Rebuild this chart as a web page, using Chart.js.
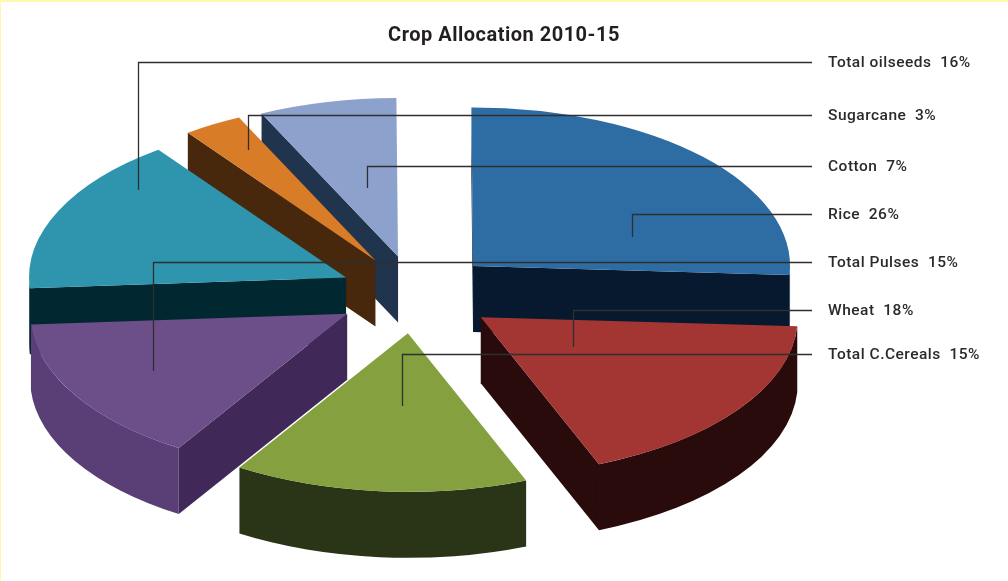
<!DOCTYPE html>
<html>
<head>
<meta charset="utf-8">
<title>Crop Allocation 2010-15</title>
<script src="https://cdn.jsdelivr.net/npm/chart.js@4"></script>
<style>
  html, body { margin: 0; padding: 0; background: #fff; }
  canvas { display: block; }
</style>
</head>
<body>
<canvas id="cropChart" width="1008" height="581"></canvas>
<script>
const categories = ['Rice', 'Wheat', 'Total C.Cereals', 'Total Pulses', 'Total oilseeds', 'Sugarcane', 'Cotton'];
const shares = [26, 18, 15, 15, 16, 3, 7];

const topColors = ['#2e6ca4', '#a33633', '#84a03f', '#6c4e88', '#2f95ae', '#d97c28', '#8ca2cc'];
const rimColors = ['#07192e', '#2a0b0b', '#2a3416', '#593f76', '#012731', '#47280c', '#21344d'];
const cutColors = ['#07192e', '#2a0b0b', '#2a3416', '#402959', '#012731', '#47280c', '#21344d'];

// pie geometry on the page: squashed ellipse, each slice pulled out of the centre
const pie = { cx: 415, cy: 293.5, rx: 317, tilt: 0.5, depth: 66, rotation: -0.3 };
const explode = [80, 81, 80, 79, 76, 77, 76];
const paintOrder = [6, 5, 4, 0, 3, 1, 2];

// leader line for each category: start on the slice, elbow height, label height
const leaders = [
  { x: 632, from: 237, y: 214.5 },
  { x: 573, from: 347, y: 310.5 },
  { x: 402, from: 406, y: 354.5 },
  { x: 153, from: 371, y: 262.5 },
  { x: 138, from: 190, y: 62.5 },
  { x: 248, from: 150, y: 115.5 },
  { x: 367, from: 188, y: 166.5 },
];
const leaderEnd = 812;
const labelX = 828;

function drawSlice(ctx, arc, index, scaleX, scaleY) {
  const { x, y, startAngle, endAngle, outerRadius: r } = arc.getProps(['x', 'y', 'startAngle', 'endAngle', 'outerRadius'], true);
  const drop = pie.depth / scaleY;
  const mid = (startAngle + endAngle) / 2;
  const pull = explode[index] / scaleX;

  ctx.save();
  ctx.translate(Math.cos(mid) * pull, Math.sin(mid) * pull);

  const cutFace = (angle) => {
    const ex = x + Math.cos(angle) * r;
    const ey = y + Math.sin(angle) * r;
    ctx.fillStyle = cutColors[index];
    ctx.beginPath();
    ctx.moveTo(x, y);
    ctx.lineTo(ex, ey);
    ctx.lineTo(ex, ey + drop);
    ctx.lineTo(x, y + drop);
    ctx.closePath();
    ctx.fill();
  };
  if (Math.sin(startAngle - Math.PI / 2) > 0) cutFace(startAngle);
  if (Math.sin(endAngle + Math.PI / 2) > 0) cutFace(endAngle);

  const from = Math.max(startAngle, 0);
  const to = Math.min(endAngle, Math.PI);
  if (to > from) {
    ctx.fillStyle = rimColors[index];
    ctx.beginPath();
    ctx.arc(x, y, r, from, to);
    ctx.arc(x, y + drop, r, to, from, true);
    ctx.closePath();
    ctx.fill();
  }

  arc.draw(ctx);
  ctx.restore();
}

const tiltedPie = {
  id: 'tiltedPie',
  beforeDraw(chart) {
    const { ctx, width, height } = chart;
    ctx.letterSpacing = '0.5px';
    ctx.save();
    ctx.fillStyle = '#fff6b4';
    ctx.fillRect(0, 0, width, 2);
    ctx.fillRect(0, 0, 1, height);
    ctx.restore();
  },
  beforeDatasetsDraw(chart) {
    const { ctx } = chart;
    const arcs = chart.getDatasetMeta(0).data;
    const first = arcs[0];
    const scaleX = pie.rx / first.outerRadius;
    const scaleY = scaleX * pie.tilt;

    ctx.save();
    ctx.translate(pie.cx, pie.cy);
    ctx.scale(scaleX, scaleY);
    ctx.translate(-first.x, -first.y);
    paintOrder.forEach((index) => drawSlice(ctx, arcs[index], index, scaleX, scaleY));
    ctx.restore();

    ctx.save();
    ctx.strokeStyle = '#2f2f2f';
    ctx.lineWidth = 1.3;
    ctx.fillStyle = '#2a2a2a';
    ctx.font = '500 15.5px Roboto';
    ctx.textBaseline = 'middle';
    leaders.forEach((line, index) => {
      ctx.beginPath();
      ctx.moveTo(line.x + 0.5, line.from);
      ctx.lineTo(line.x + 0.5, line.y);
      ctx.lineTo(leaderEnd, line.y);
      ctx.stroke();
      ctx.fillText(`${categories[index]}  ${shares[index]}%`, labelX, line.y + 1);
    });
    ctx.restore();
    return false;
  },
};

new Chart(document.getElementById('cropChart'), {
  type: 'pie',
  data: {
    labels: categories,
    datasets: [{
      data: shares,
      backgroundColor: topColors,
      borderWidth: 0,
    }],
  },
  options: {
    responsive: false,
    animation: false,
    events: [],
    rotation: pie.rotation,
    layout: { padding: 0 },
    plugins: {
      legend: { display: false },
      tooltip: { enabled: false },
      title: {
        display: true,
        text: 'Crop Allocation 2010-15',
        color: '#231f20',
        font: { family: 'Roboto', size: 20, weight: '700' },
        padding: { top: 24, bottom: 10 },
      },
    },
  },
  plugins: [tiltedPie],
});
</script>
</body>
</html>
